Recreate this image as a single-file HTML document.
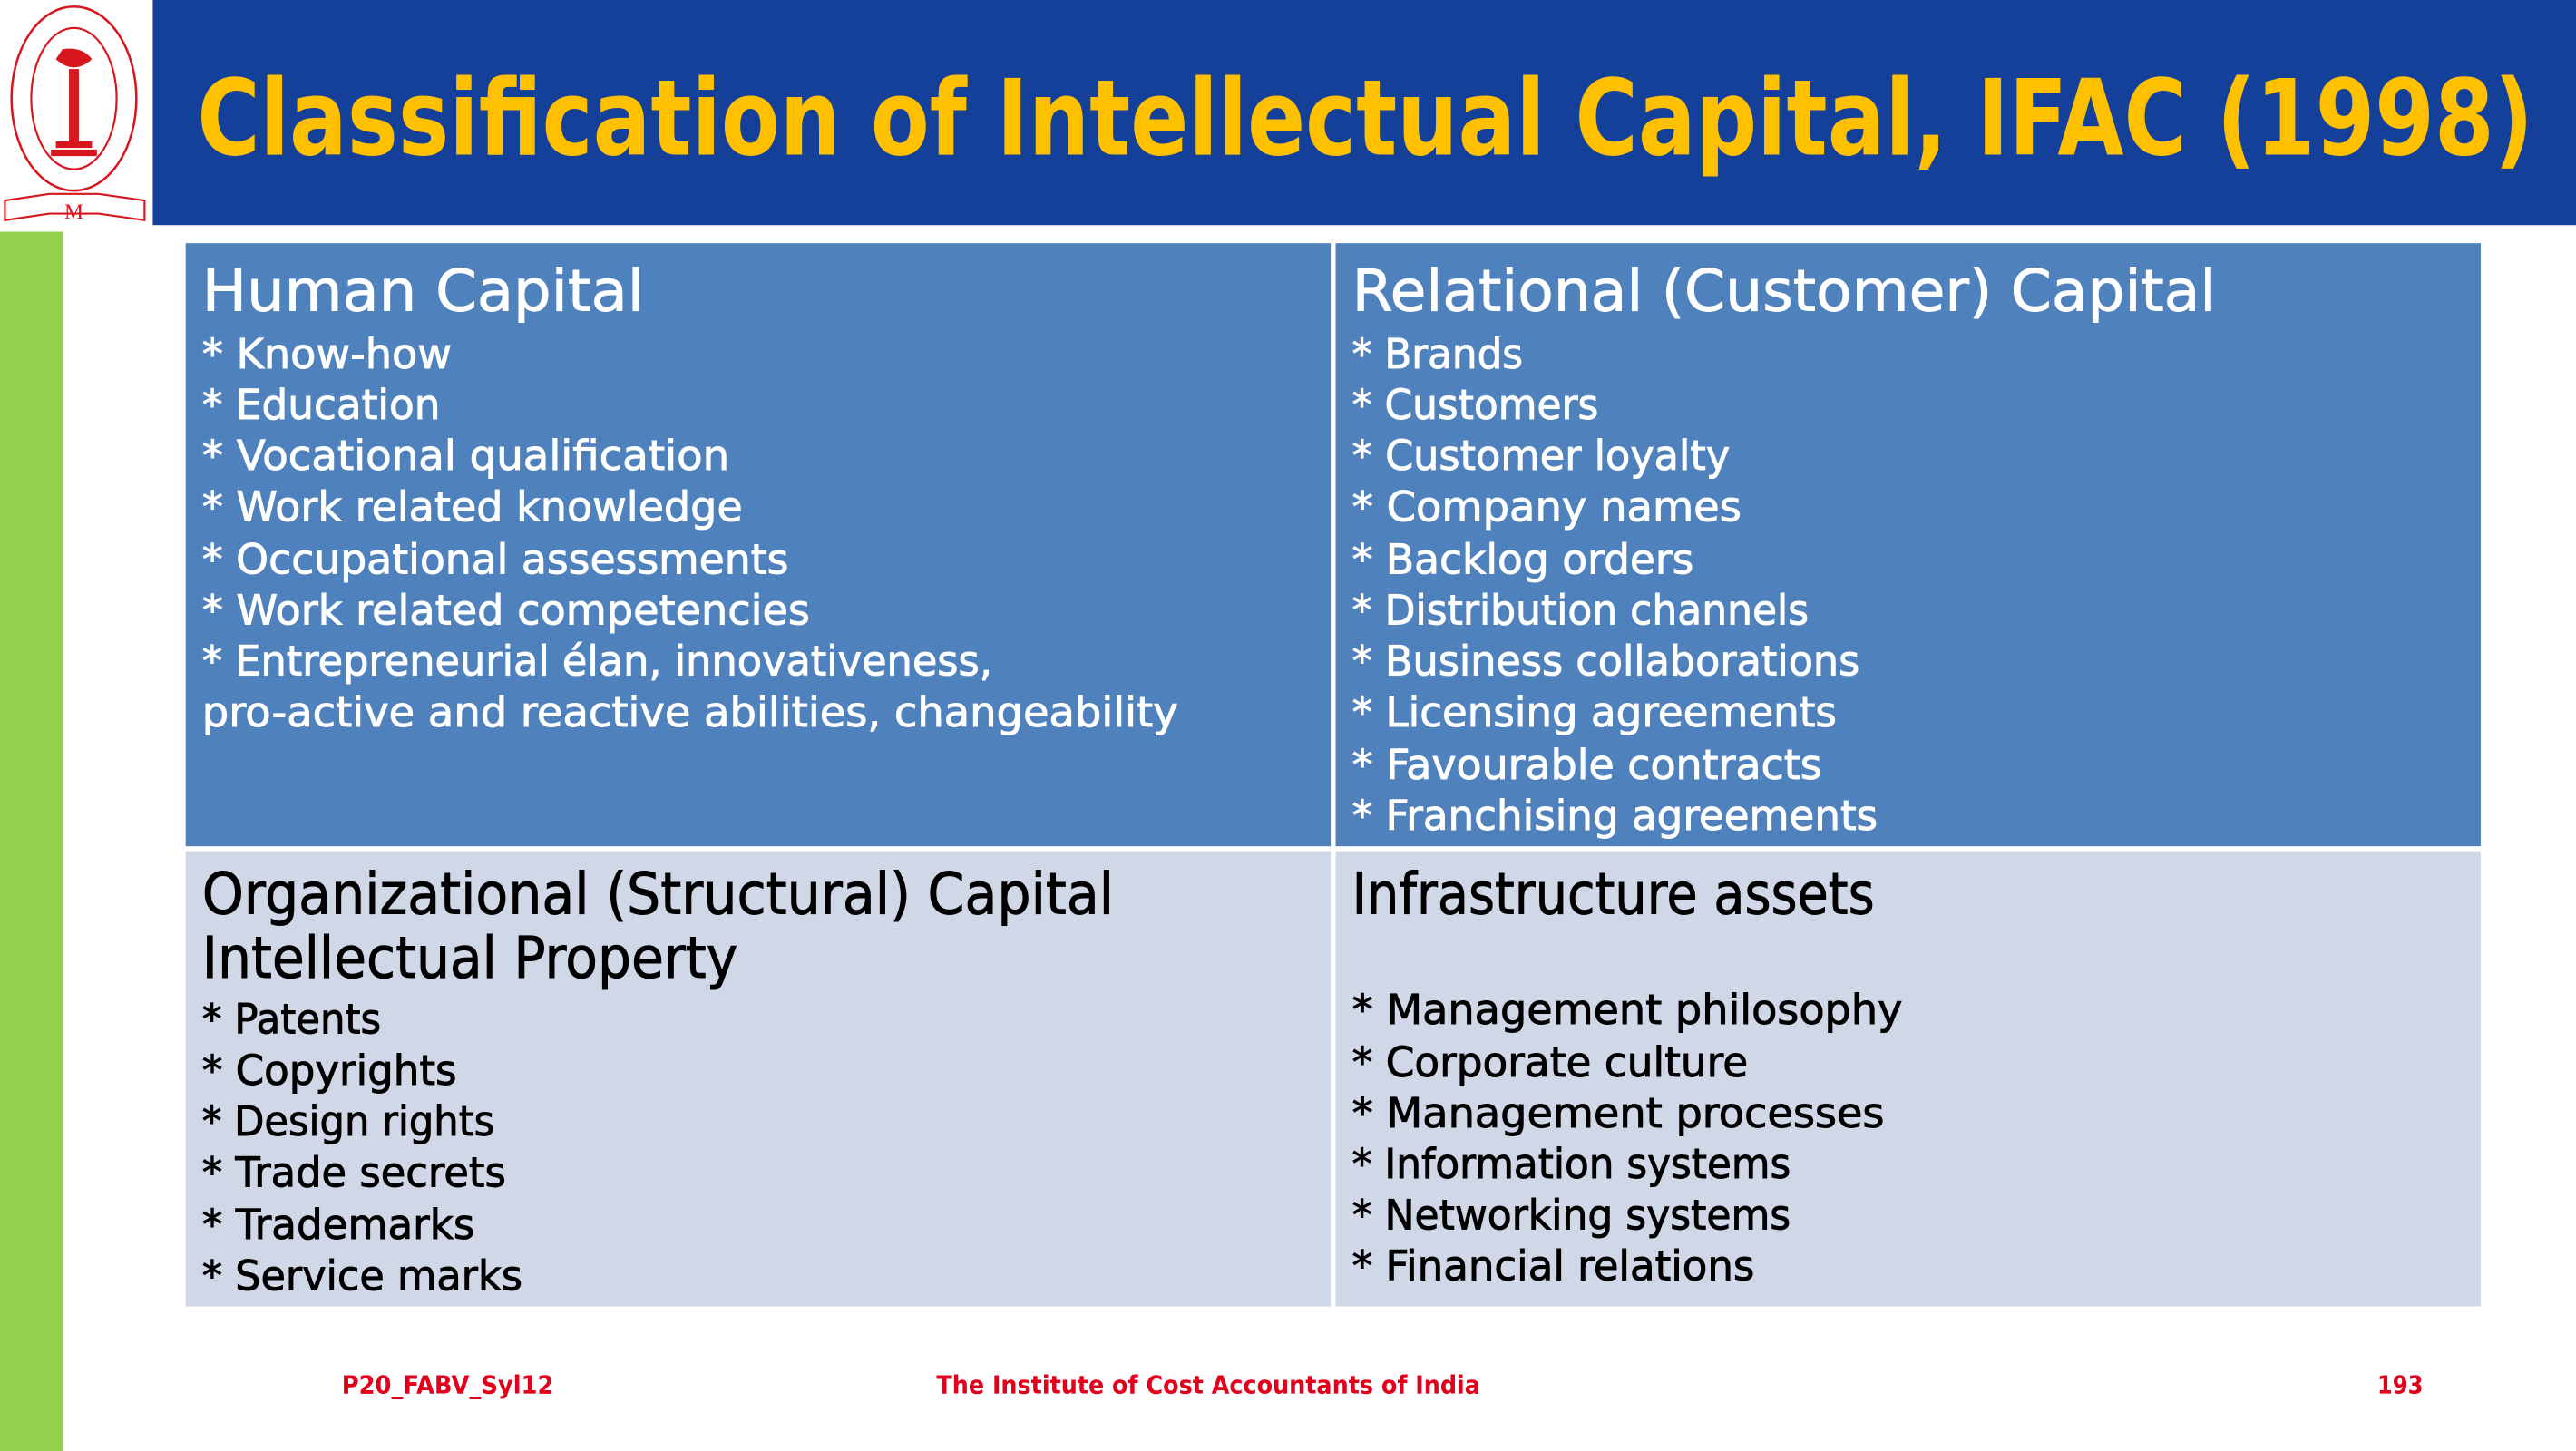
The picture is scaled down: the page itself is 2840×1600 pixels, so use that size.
<!DOCTYPE html>
<html><head><meta charset="utf-8"><style>html,body{margin:0;padding:0;background:#fff}svg{display:block}</style></head><body>
<svg width="2840" height="1600" viewBox="0 0 1568 883" preserveAspectRatio="none" xmlns="http://www.w3.org/2000/svg" font-family="'DejaVu Sans','Liberation Sans',sans-serif">
<rect x="0" y="0" width="1568" height="883" fill="#fff"/>
<rect x="93" y="0" width="1475" height="137" fill="#15409A"/>
<rect x="0" y="141" width="38.5" height="742" fill="#92D050"/>
<g fill="none" stroke="#D7161E">
<ellipse cx="45" cy="60" rx="38" ry="56" stroke-width="1.4"/>
<ellipse cx="45" cy="60" rx="26" ry="43" stroke-width="1.2"/>
<rect x="42" y="42" width="6" height="44" fill="#D7161E" stroke="none"/>
<path d="M34 36 Q45 46 56 36 Q50 28 38 30 Z" fill="#D7161E" stroke="none"/>
<rect x="34" y="86" width="22" height="4" fill="#D7161E" stroke="none"/>
<rect x="31" y="91" width="28" height="4" fill="#D7161E" stroke="none"/>
<path d="M3 122 L30 118 L60 118 L88 122 L88 134 L60 130 L30 130 L3 134 Z" stroke-width="1.2"/>
</g>
<text x="45" y="133" font-size="13" fill="#D7161E" text-anchor="middle" font-family="'Liberation Serif',serif">M</text>
<text x="120" y="94" font-size="64" font-weight="bold" fill="#FFC000" textLength="1422" lengthAdjust="spacingAndGlyphs">Classification of Intellectual Capital, IFAC (1998)</text>
<rect x="113" y="148" width="697" height="367" fill="#4F81BD"/>
<rect x="813" y="148" width="697" height="367" fill="#4F81BD"/>
<rect x="113" y="518" width="697" height="277" fill="#D0D8E8"/>
<rect x="813" y="518" width="697" height="277" fill="#D0D8E8"/>
<g fill="#fff" stroke="#fff" stroke-width="0.5">
<text x="123" y="189" font-size="35" textLength="269" lengthAdjust="spacingAndGlyphs">Human Capital</text>
<g font-size="25">
<text x="123" y="224" textLength="152" lengthAdjust="spacingAndGlyphs">* Know-how</text>
<text x="123" y="255" textLength="145" lengthAdjust="spacingAndGlyphs">* Education</text>
<text x="123" y="286" textLength="321" lengthAdjust="spacingAndGlyphs">* Vocational qualification</text>
<text x="123" y="317" textLength="329" lengthAdjust="spacingAndGlyphs">* Work related knowledge</text>
<text x="123" y="349" textLength="357" lengthAdjust="spacingAndGlyphs">* Occupational assessments</text>
<text x="123" y="380" textLength="370" lengthAdjust="spacingAndGlyphs">* Work related competencies</text>
<text x="123" y="411" textLength="481" lengthAdjust="spacingAndGlyphs">* Entrepreneurial élan, innovativeness,</text>
<text x="123" y="442" textLength="594" lengthAdjust="spacingAndGlyphs">pro-active and reactive abilities, changeability</text>
</g>
<text x="823" y="189" font-size="35" textLength="526" lengthAdjust="spacingAndGlyphs">Relational (Customer) Capital</text>
<g font-size="25">
<text x="823" y="224" textLength="104" lengthAdjust="spacingAndGlyphs">* Brands</text>
<text x="823" y="255" textLength="150" lengthAdjust="spacingAndGlyphs">* Customers</text>
<text x="823" y="286" textLength="230" lengthAdjust="spacingAndGlyphs">* Customer loyalty</text>
<text x="823" y="317" textLength="237" lengthAdjust="spacingAndGlyphs">* Company names</text>
<text x="823" y="349" textLength="208" lengthAdjust="spacingAndGlyphs">* Backlog orders</text>
<text x="823" y="380" textLength="278" lengthAdjust="spacingAndGlyphs">* Distribution channels</text>
<text x="823" y="411" textLength="309" lengthAdjust="spacingAndGlyphs">* Business collaborations</text>
<text x="823" y="442" textLength="295" lengthAdjust="spacingAndGlyphs">* Licensing agreements</text>
<text x="823" y="474" textLength="286" lengthAdjust="spacingAndGlyphs">* Favourable contracts</text>
<text x="823" y="505" textLength="320" lengthAdjust="spacingAndGlyphs">* Franchising agreements</text>
</g>
</g>
<g fill="#000" stroke="#000" stroke-width="0.5">
<text x="123" y="556" font-size="35" textLength="555" lengthAdjust="spacingAndGlyphs">Organizational (Structural) Capital</text>
<text x="123" y="595" font-size="35" textLength="326" lengthAdjust="spacingAndGlyphs">Intellectual Property</text>
<g font-size="25">
<text x="123" y="629" textLength="109" lengthAdjust="spacingAndGlyphs">* Patents</text>
<text x="123" y="660" textLength="155" lengthAdjust="spacingAndGlyphs">* Copyrights</text>
<text x="123" y="691" textLength="178" lengthAdjust="spacingAndGlyphs">* Design rights</text>
<text x="123" y="722" textLength="185" lengthAdjust="spacingAndGlyphs">* Trade secrets</text>
<text x="123" y="754" textLength="166" lengthAdjust="spacingAndGlyphs">* Trademarks</text>
<text x="123" y="785" textLength="195" lengthAdjust="spacingAndGlyphs">* Service marks</text>
</g>
<text x="823" y="556" font-size="35" textLength="318" lengthAdjust="spacingAndGlyphs">Infrastructure assets</text>
<g font-size="25">
<text x="823" y="623" textLength="335" lengthAdjust="spacingAndGlyphs">* Management philosophy</text>
<text x="823" y="655" textLength="241" lengthAdjust="spacingAndGlyphs">* Corporate culture</text>
<text x="823" y="686" textLength="324" lengthAdjust="spacingAndGlyphs">* Management processes</text>
<text x="823" y="717" textLength="267" lengthAdjust="spacingAndGlyphs">* Information systems</text>
<text x="823" y="748" textLength="267" lengthAdjust="spacingAndGlyphs">* Networking systems</text>
<text x="823" y="779" textLength="245" lengthAdjust="spacingAndGlyphs">* Financial relations</text>
</g>
</g>
<g fill="#E3001B" font-size="15" font-weight="bold">
<text x="208" y="848" textLength="129" lengthAdjust="spacingAndGlyphs">P20_FABV_Syl12</text>
<text x="570" y="848" textLength="331" lengthAdjust="spacingAndGlyphs">The Institute of Cost Accountants of India</text>
<text x="1447" y="848" textLength="28" lengthAdjust="spacingAndGlyphs">193</text>
</g>
</svg>
</body></html>
